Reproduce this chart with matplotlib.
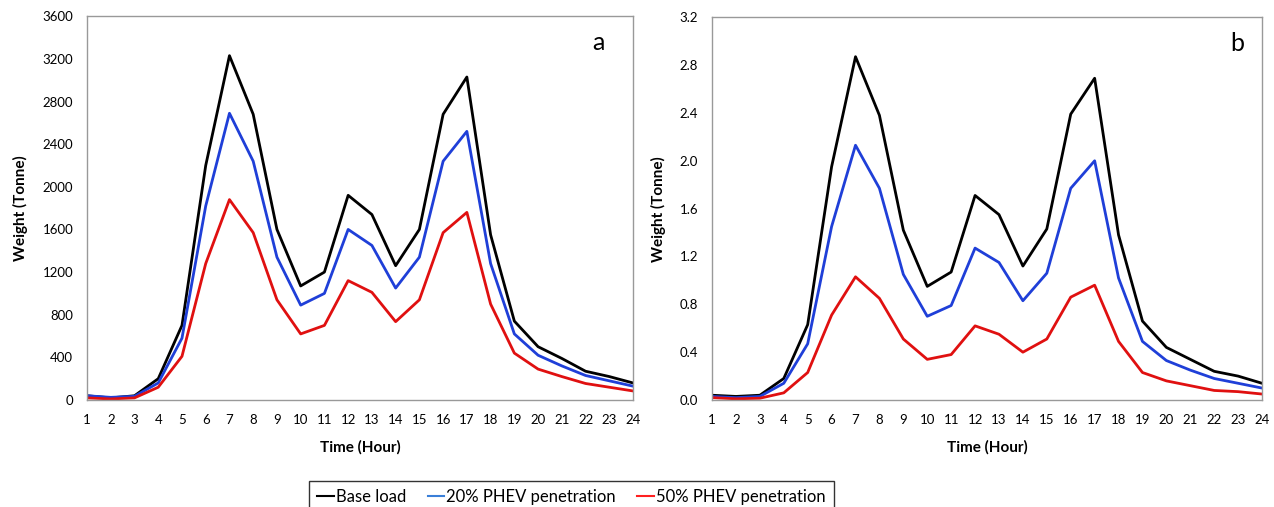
import numpy as np
import matplotlib
matplotlib.use('Agg')
import matplotlib.pyplot as plt

plt.rcParams['font.family'] = ['Lato', 'DejaVu Sans']

hours = list(range(1, 25))

# panel a (tonne)
base_a = [40, 20, 40, 200, 700, 2200, 3230, 2680, 1600, 1070, 1200, 1920,
          1740, 1260, 1600, 2680, 3030, 1550, 740, 500, 390, 270, 220, 160]
phev20_a = [40, 25, 35, 160, 580, 1820, 2690, 2240, 1340, 890, 1000, 1600,
            1450, 1050, 1340, 2240, 2520, 1280, 620, 420, 320, 230, 180, 130]
phev50_a = [20, 10, 20, 120, 410, 1280, 1880, 1570, 940, 620, 700, 1120,
            1010, 735, 940, 1570, 1760, 900, 440, 290, 220, 155, 120, 85]

# panel b (tonne)
base_b = [0.04, 0.03, 0.04, 0.18, 0.63, 1.95, 2.87, 2.38, 1.42, 0.95, 1.07, 1.71,
          1.55, 1.12, 1.43, 2.39, 2.69, 1.38, 0.66, 0.44, 0.34, 0.24, 0.20, 0.14]
phev20_b = [0.03, 0.02, 0.03, 0.14, 0.47, 1.45, 2.13, 1.77, 1.05, 0.70, 0.79, 1.27,
            1.15, 0.83, 1.06, 1.77, 2.00, 1.02, 0.49, 0.33, 0.25, 0.18, 0.14, 0.10]
phev50_b = [0.02, 0.01, 0.015, 0.06, 0.23, 0.71, 1.03, 0.85, 0.51, 0.34, 0.38, 0.62,
            0.55, 0.40, 0.51, 0.86, 0.96, 0.49, 0.23, 0.16, 0.12, 0.08, 0.07, 0.05]

series_names = ['Base load', '20% PHEV penetration', '50% PHEV penetration']
colors = ['#000000', '#1f3fd8', '#e01010']

fig = plt.figure(figsize=(12.74, 5.07), dpi=100)
ax1 = fig.add_axes([0.0683, 0.211, 0.4286, 0.757])
ax2 = fig.add_axes([0.5589, 0.211, 0.4317, 0.755])

panels = [
    (ax1, [base_a, phev20_a, phev50_a], 3600, 400, 'a', 0.936, lambda v: '%d' % v),
    (ax2, [base_b, phev20_b, phev50_b], 3.2, 0.4, 'b', 0.955, lambda v: '%.1f' % v),
]

for ax, data, ymax, step, tag, tx, fmt in panels:
    for vals, c, name in zip(data, colors, series_names):
        ax.plot(hours, vals, color=c, lw=2, label=name)
    ax.set_xlim(1, 24)
    ax.set_ylim(0, ymax)
    ax.set_xticks(hours)
    yt = np.arange(0, ymax + step / 2, step)
    ax.set_yticks(yt)
    ax.set_yticklabels([fmt(v) for v in yt])
    ax.tick_params(length=0, labelsize=9.5, pad=10)
    for s in ax.spines.values():
        s.set_color('#999999')
        s.set_linewidth(1)
    ax.set_xlabel('Time (Hour)', fontsize=11, fontweight='bold', labelpad=10)
    ax.set_ylabel('Weight (Tonne)', fontsize=11, fontweight='bold', labelpad=10)
    ax.text(tx, 0.932, tag, transform=ax.transAxes, fontsize=18, ha='center', va='center')

handles, labels = ax1.get_legend_handles_labels()
leg = fig.legend(handles, labels, loc='upper center', bbox_to_anchor=(0.4485, 0.068),
                 ncol=3, fontsize=12, frameon=True, fancybox=False, handlelength=1.0,
                 handletextpad=0.1, columnspacing=1.3, borderpad=0.5)
leg.get_frame().set_edgecolor('black')
leg.get_frame().set_linewidth(1)
for ln, c in zip(leg.get_lines(), ['#000000', '#3a7fd8', '#ff2020']):
    ln.set_linewidth(1.5)
    ln.set_color(c)

fig.savefig('out.png', dpi=100)
